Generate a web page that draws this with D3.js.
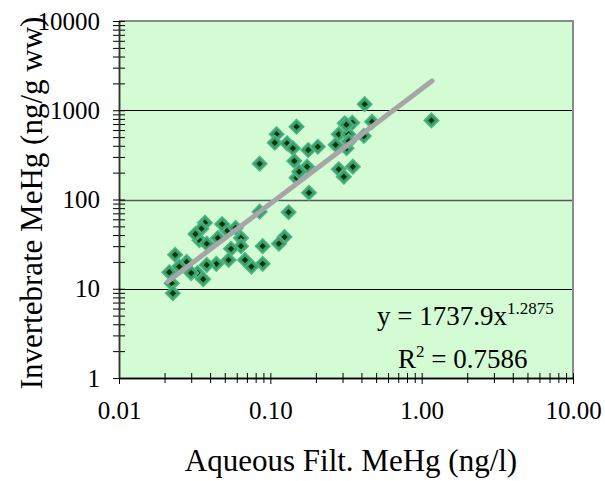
<!DOCTYPE html>
<html>
<head>
<meta charset="utf-8">
<script src="https://cdn.jsdelivr.net/npm/d3@7"></script>
<style>
	body { margin: 0; background: #fff; }
	text { font-family: "Liberation Serif", "Times New Roman", serif; fill: #000; }
</style>
</head>
<body>
<script>
// aqueous filtered MeHg (ng/l) vs invertebrate MeHg (ng/g ww)
var aqMeHg = [0.42, 1.16, 0.149, 0.11, 0.107, 0.129, 0.141, 0.178, 0.206, 0.085,
	0.144, 0.175, 0.149, 0.18, 0.283, 0.31, 0.348, 0.327, 0.318, 0.47,
	0.415, 0.319, 0.283, 0.351, 0.306, 0.085, 0.132, 0.124, 0.114, 0.089,
	0.089, 0.075, 0.068, 0.064, 0.064, 0.055, 0.053, 0.044, 0.052, 0.048,
	0.045, 0.037, 0.035, 0.034, 0.038, 0.038, 0.033, 0.036, 0.030, 0.028,
	0.0235, 0.025, 0.0215, 0.0223, 0.0227, 0.032, 0.059, 0.155, 0.33, 0.27];
var invMeHg = [1170, 770, 655, 540, 433, 426, 375, 358, 390, 252,
	270, 233, 175, 119, 538, 714, 725, 540, 690, 744,
	515, 375, 218, 233, 180, 73, 72, 38, 32, 30,
	19, 17.7, 21, 37, 30, 28, 21, 19, 45, 53,
	37, 55, 47, 35, 32, 18.5, 15, 12.8, 15, 20,
	24, 17.7, 15.3, 11.5, 8.9, 41, 48, 205, 450, 410];

// power trend y = a * x^b
var trendA = 1737.9, trendB = 1.2875, trendR2 = 0.7586;
var trendRange = [0.021, 1.17];

var xMajor = [0.01, 0.1, 1, 10];
var yMajor = [1, 10, 100, 1000, 10000];
var gridVals = [10, 100, 1000];

var xTitle = "Aqueous Filt. MeHg (ng/l)";
var yTitle = "Invertebrate MeHg (ng/g ww)";

var width = 605, height = 481;
var pL = 119, pR = 573, pT = 21, pB = 378;

var svg = d3.select("body").append("svg")
	.attr("width", width)
	.attr("height", height);

var x = d3.scaleLog().domain([0.01, 10]).range([pL, pR]);
var y = d3.scaleLog().domain([1, 10000]).range([pB, pT]);

function minorOf(majors) {
	var out = [];
	for (var i = 0; i < majors.length - 1; i++)
		for (var k = 2; k <= 9; k++) out.push(majors[i] * k);
	return out;
}

// plot area
svg.append("rect")
	.attr("x", pL).attr("y", pT)
	.attr("width", pR - pL).attr("height", pB - pT)
	.style("fill", "#d4fcd4");

svg.selectAll(".grid")
	.data(gridVals)
	.enter().append("line")
	.attr("class", "grid")
	.attr("x1", pL).attr("x2", pR)
	.attr("y1", function (d) { return Math.round(y(d)) + 0.5 })
	.attr("y2", function (d) { return Math.round(y(d)) + 0.5 })
	.style("stroke", function (d) { return d == 100 ? "#555" : "#000" })
	.style("stroke-width", function (d) { return d == 100 ? 1.6 : 1 });

// top / right border
svg.append("path")
	.attr("d", "M" + pL + "," + pT + "H" + pR + "V" + pB)
	.style("fill", "none")
	.style("stroke", "#8a8a8a")
	.style("stroke-width", 2);

/*************************************************/
// x axis
var gx = svg.append("g").attr("transform", "translate(0," + pB + ")");
gx.append("g").call(d3.axisBottom(x).tickValues(minorOf(xMajor)).tickFormat("").tickSize(5).tickSizeOuter(0));
gx.append("g").call(d3.axisBottom(x).tickValues(xMajor).tickFormat(d3.format(".2f")).tickSize(6).tickSizeOuter(0).tickPadding(17));
gx.selectAll(".tick line").attr("y1", -5);
gx.selectAll("text").style("font-size", "25px").style("font-family", null);
gx.selectAll(".domain").style("stroke", "#000").style("stroke-width", 1.5);

// y axis
var gy = svg.append("g").attr("transform", "translate(" + pL + ",0)");
gy.append("g").call(d3.axisLeft(y).tickValues(minorOf(yMajor)).tickFormat("").tickSize(6).tickSizeOuter(0));
gy.append("g").call(d3.axisLeft(y).tickValues(yMajor).tickFormat(d3.format("d")).tickSize(6).tickSizeOuter(0).tickPadding(13));
gy.selectAll(".tick line").attr("x1", 6);
gy.selectAll("text").style("font-size", "25px").style("font-family", null);
gy.selectAll(".domain").style("stroke", "#333").style("stroke-width", 1.5);

/*************************************************/
// points
var pts = svg.selectAll(".pt")
	.data(d3.zip(aqMeHg, invMeHg))
	.enter().append("g")
	.attr("class", "pt")
	.attr("transform", function (d) { return "translate(" + x(d[0]) + "," + y(d[1]) + ")" });

pts.append("path")
	.attr("d", "M0,-7.5L7.5,0L0,7.5L-7.5,0Z")
	.style("fill", "#3c9f6f")
	.style("stroke", "#55b888")
	.style("stroke-width", 1.2);
pts.append("path")
	.attr("d", "M0,-3.2L3.2,0L0,3.2L-3.2,0Z")
	.style("fill", "#003800");

// trend line
var trend = trendRange.map(function (v) { return [v, trendA * Math.pow(v, trendB)] });
svg.append("path")
	.datum(trend)
	.attr("d", d3.line().x(function (d) { return x(d[0]) }).y(function (d) { return y(d[1]) }))
	.style("fill", "none")
	.style("stroke", "#a6a6a6")
	.style("stroke-width", 5)
	.style("stroke-linecap", "round");

/*************************************************/
// equation
var eq = svg.append("text").attr("x", 377).attr("y", 325).style("font-size", "27px");
eq.append("tspan").text("y = " + trendA + "x");
eq.append("tspan").attr("dy", -11).style("font-size", "17px").text(trendB);

var r2 = svg.append("text").attr("x", 398).attr("y", 368).style("font-size", "27px");
r2.append("tspan").text("R");
r2.append("tspan").attr("dy", -11).style("font-size", "17px").text("2");
r2.append("tspan").attr("dy", 11).text(" = " + trendR2);

// titles
svg.append("text")
	.attr("x", 351).attr("y", 471)
	.attr("text-anchor", "middle")
	.style("font-size", "31px")
	.text(xTitle);

svg.append("text")
	.attr("transform", "translate(42,203) rotate(-90)")
	.attr("text-anchor", "middle")
	.style("font-size", "31px")
	.text(yTitle);
</script>
</body>
</html>
